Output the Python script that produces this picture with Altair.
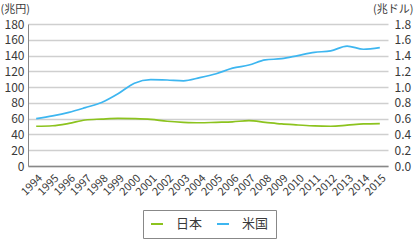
import altair as alt
import pandas as pd

years = [str(y) for y in range(1994, 2016)]
japan = [50.4, 51, 54, 58.3, 59.5, 60.4, 60, 59, 56.7, 55.4, 54.8, 55.4, 56, 57.5, 55.4,
         53.3, 52, 50.8, 50.4, 51.7, 53.3, 53.7]
usa = [60, 63.5, 68, 74, 80.5, 91.5, 105, 109.5, 109, 108, 112, 117, 124, 128, 134.5,
       136, 140, 144, 146, 152, 148, 150]
series_names = ["日本", "米国"]
left_ticks = list(range(0, 181, 20))

df = pd.DataFrame({
    "year": years * 2,
    "value": japan + usa,
    "series": [series_names[0]] * len(years) + [series_names[1]] * len(years),
})

FONT = "Noto Sans CJK JP"
TXT = "#3a3a3a"

xenc = alt.X("year:O", scale=alt.Scale(type="point", padding=0.5),
             axis=alt.Axis(title=None, labelAngle=-45, labelFontSize=11, labelColor=TXT,
                           labelFont=FONT, ticks=False, domainColor="#888888", domainWidth=1.5,
                           labelPadding=6, grid=False))

lines = alt.Chart(df).mark_line(strokeWidth=1.7, interpolate="monotone").encode(
    x=xenc,
    y=alt.Y("value:Q", scale=alt.Scale(domain=[0, 180], nice=False),
            axis=alt.Axis(values=left_ticks, title="(兆円)", titleAngle=0, titleX=-28, titleY=-15,
                          titleAlign="left", titleBaseline="middle", titleFontSize=11,
                          titleFontWeight="normal", titleFont=FONT, titleColor=TXT,
                          labelFontSize=12, labelFont=FONT, labelColor=TXT, ticks=False,
                          labelPadding=4, domainColor="#888888", domainWidth=1,
                          gridColor="#cfcfcf", gridWidth=1.5)),
    color=alt.Color("series:N", scale=alt.Scale(domain=series_names, range=["#8cc31e", "#3db6f0"]),
                    legend=alt.Legend(title=None, orient="none", legendX=115, legendY=186,
                                      direction="horizontal", strokeColor="#888888", padding=7,
                                      symbolType="stroke", symbolSize=144, symbolStrokeWidth=2,
                                      labelFontSize=13, labelFont=FONT, labelColor=TXT,
                                      labelOffset=12, columnPadding=10)),
)

right = alt.Chart(df).mark_line(opacity=0).encode(
    x=xenc,
    y=alt.Y("value:Q", scale=alt.Scale(domain=[0, 180], nice=False),
            axis=alt.Axis(orient="right", values=left_ticks,
                          labelExpr="format(datum.value/100, '.1f')",
                          title="(兆ドル)", titleAngle=0, titleX=25, titleY=-15,
                          titleAlign="right", titleBaseline="middle", titleFontSize=11,
                          titleFontWeight="normal", titleFont=FONT, titleColor=TXT,
                          labelFontSize=12, labelFont=FONT, labelColor=TXT, ticks=False,
                          labelPadding=6, domain=False, grid=False)),
    detail="series:N",
)

chart = alt.layer(lines, right).resolve_scale(y="independent").properties(
    width=360, height=142,
    autosize=alt.AutoSizeParams(type="none"),
    padding={"left": 28, "top": 24, "right": 27, "bottom": 74},
).configure_view(stroke=None)

chart.save("out.html", embed_options={"renderer": "svg", "actions": False})
